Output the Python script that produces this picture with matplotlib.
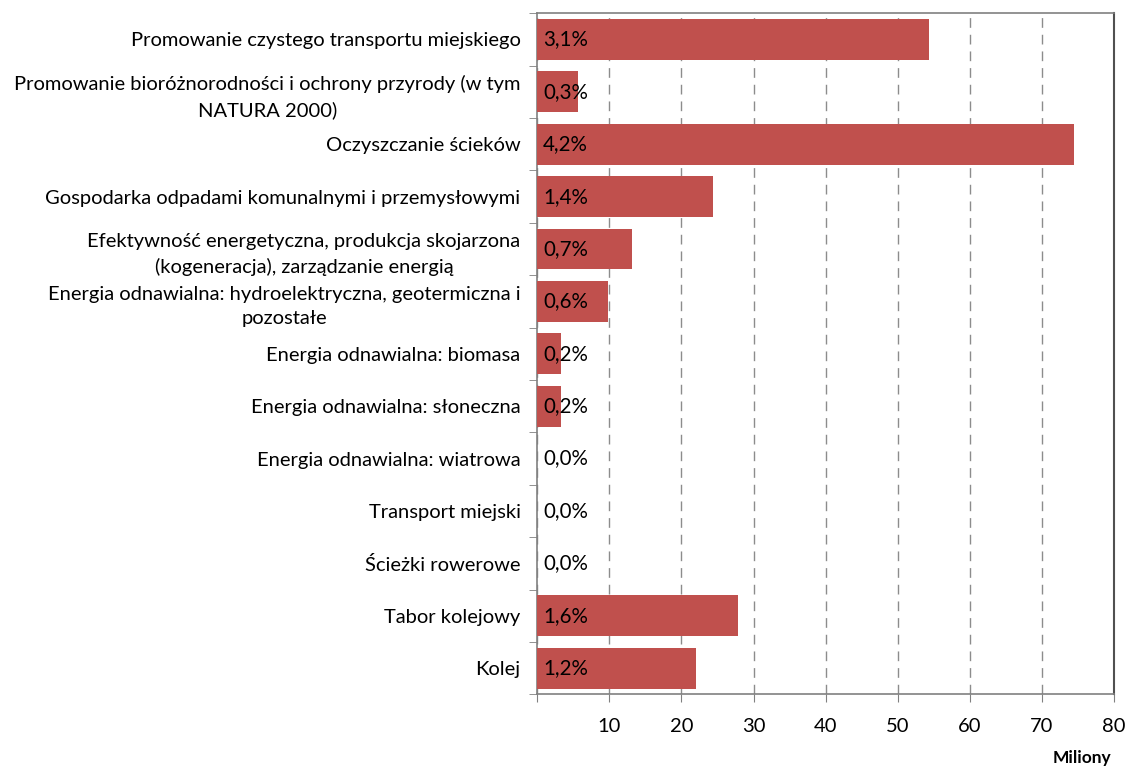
import matplotlib
matplotlib.use("Agg")
import matplotlib.pyplot as plt
import numpy as np

categories = [
    "Promowanie czystego transportu miejskiego",
    "Promowanie bioróżnorodności i ochrony przyrody (w tym\nNATURA 2000)",
    "Oczyszczanie ścieków",
    "Gospodarka odpadami komunalnymi i przemysłowymi",
    "Efektywność energetyczna, produkcja skojarzona\n(kogeneracja), zarządzanie energią",
    "Energia odnawialna: hydroelektryczna, geotermiczna i\npozostałe",
    "Energia odnawialna: biomasa",
    "Energia odnawialna: słoneczna",
    "Energia odnawialna: wiatrowa",
    "Transport miejski",
    "Ścieżki rowerowe",
    "Tabor kolejowy",
    "Kolej",
]
values = [54.4, 5.65, 74.4, 24.4, 13.15, 9.8, 3.3, 3.3, 0.0, 0.0, 0.0, 27.9, 22.0]
shares = ["3,1%", "0,3%", "4,2%", "1,4%", "0,7%", "0,6%", "0,2%", "0,2%",
          "0,0%", "0,0%", "0,0%", "1,6%", "1,2%"]
xticks = [0, 10, 20, 30, 40, 50, 60, 70, 80]
xticklabels = ["", "10", "20", "30", "40", "50", "60", "70", "80"]

plt.rcParams['font.family'] = ['Lato', 'DejaVu Sans']

fig = plt.figure(figsize=(11.28, 7.67), dpi=100)
ax = fig.add_axes([0.4763, 0.0948, 0.9876 - 0.4763, 0.9827 - 0.0948])

n = len(categories)
y = np.arange(n)
ax.barh(y, values, height=0.78, color="#C0504D", zorder=3)
ax.set_ylim(n - 0.5, -0.5)
ax.set_xlim(0, 80)

for yi, s in zip(y, shares):
    ax.text(0.8, yi, s, ha="left", va="center", fontsize=14.8, color="#000000", zorder=4)

ax.set_yticks(y)
ax.set_yticklabels(categories, fontsize=14.5, ha="right", multialignment="center",
                   linespacing=1.5)
ax.tick_params(axis="y", which="major", length=0, pad=12)
ax.set_yticks(np.arange(-0.5, n, 1.0), minor=True)
ax.tick_params(axis="y", which="minor", length=6, color="#808080", direction="out")

ax.set_xticks(xticks)
ax.set_xticklabels(xticklabels, fontsize=14.5)
ax.tick_params(axis="x", length=6, color="#808080", direction="out", pad=11)

ax.grid(axis="x", linestyle=(0, (7, 5)), color="#8c8c8c", linewidth=1, zorder=0)
for side in ["left", "bottom", "top"]:
    ax.spines[side].set_color("#808080")
    ax.spines[side].set_linewidth(1.2)
ax.spines["right"].set_color("#505050")
ax.spines["right"].set_linewidth(1.5)

fig.text(1111 / 1128, 1 - 758 / 767, "Miliony", ha="right", va="center",
         fontsize=12.5, fontweight="bold")

fig.savefig("out.png", dpi=100)
